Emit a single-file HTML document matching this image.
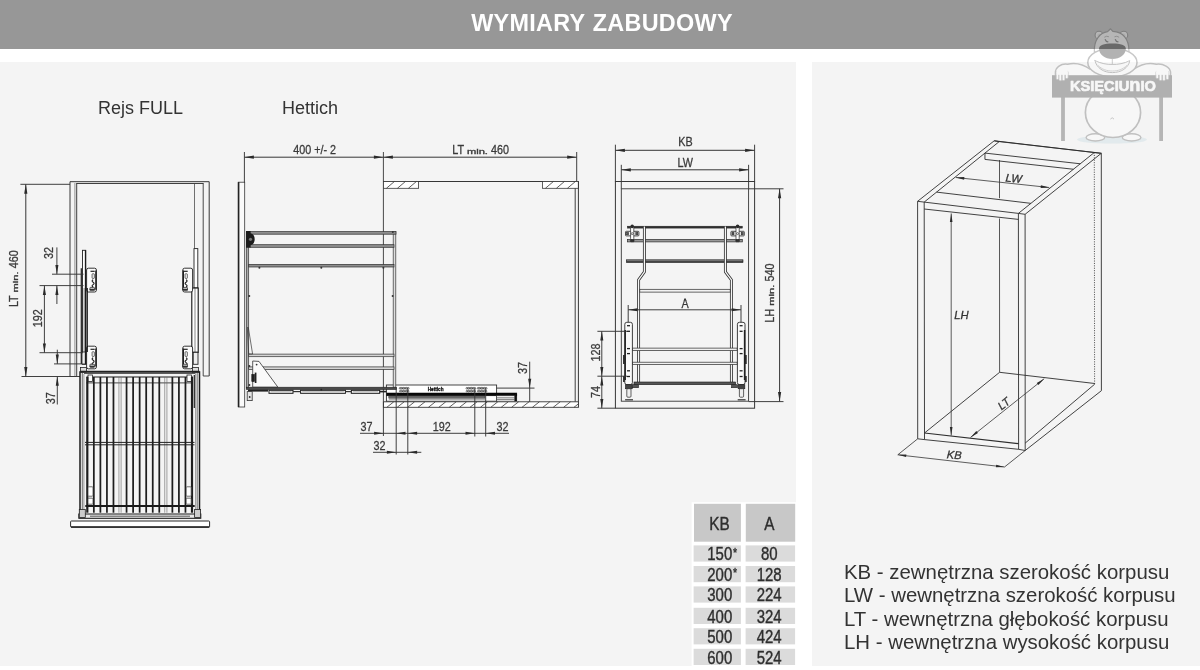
<!DOCTYPE html>
<html lang="pl">
<head>
<meta charset="utf-8">
<title>Wymiary zabudowy</title>
<style>
html,body{margin:0;padding:0;background:#fff;overflow:hidden;}
body{width:1200px;height:670px;position:relative;overflow:hidden;font-family:"Liberation Sans",sans-serif;}
#hdr{position:absolute;left:0;top:0;width:1200px;height:48.5px;background:#979797;overflow:hidden;}
#hdr h1{margin:0;position:absolute;left:4px;width:1196px;top:9.0px;word-spacing:0.9px;text-align:center;color:#fff;font-size:23.4px;line-height:28px;font-weight:bold;letter-spacing:0.3px;}
#pl{position:absolute;left:0;top:62px;width:796px;height:604px;background:#f4f4f4;}
#pr{position:absolute;left:812.2px;top:62px;width:387.8px;height:604px;background:#f4f4f4;}
.lab{position:absolute;font-size:18px;line-height:20px;color:#333;white-space:nowrap;}
#legend{position:absolute;left:844.3px;top:560.6px;font-size:20.4px;line-height:23.45px;color:#333;white-space:nowrap;}
svg{position:absolute;left:0;top:0;will-change:transform;}
.lab,#legend,#hdr h1{will-change:transform;}
svg text{font-family:"Liberation Sans",sans-serif;}
</style>
</head>
<body>
<div id="hdr"><h1>WYMIARY ZABUDOWY</h1></div>
<div id="pl"></div>
<div id="pr"></div>
<div class="lab" style="left:98.2px;top:98.1px;">Rejs FULL</div>
<div class="lab" style="left:282.3px;top:98.1px;">Hettich</div>
<div id="legend">KB - zewnętrzna szerokość korpusu<br>LW - wewnętrzna szerokość korpusu<br>LT - wewnętrzna głębokość korpusu<br>LH - wewnętrzna wysokość korpusu</div>
<svg width="1200" height="670" viewBox="0 0 1200 670">
<path d="M70 181.7L209.2 181.7" stroke="#363636" stroke-width="1" fill="none" />
<path d="M76.6 183.5L203.2 183.5" stroke="#363636" stroke-width="0.95" fill="none" />
<path d="M70 181.7L70 376.5" stroke="#363636" stroke-width="1" fill="none" />
<path d="M74.9 183L74.9 376.5" stroke="#666" stroke-width="0.7" fill="none" />
<path d="M76.7 183L76.7 376.5" stroke="#363636" stroke-width="0.95" fill="none" />
<path d="M209.2 181.7L209.2 376" stroke="#363636" stroke-width="1" fill="none" />
<path d="M203.2 183L203.2 376" stroke="#363636" stroke-width="0.9" fill="none" />
<path d="M194.5 183.5L194.5 249" stroke="#363636" stroke-width="0.7" fill="none" />
<path d="M70 376.5L76.7 376.5" stroke="#363636" stroke-width="0.9" fill="none" />
<path d="M203.2 376L209.2 376" stroke="#363636" stroke-width="0.9" fill="none" />
<rect x="82.5" y="250.3" width="3.2" height="114" rx="0" stroke="#222" stroke-width="0.9" fill="#fff"/>
<path d="M84.1 288L84.1 352" stroke="#363636" stroke-width="0.6" fill="none" />
<rect x="82" y="352" width="5" height="12" rx="0" stroke="#222" stroke-width="0.8" fill="#eee"/>
<rect x="194" y="248.6" width="3.8" height="39.4" rx="0" stroke="#222" stroke-width="0.9" fill="#fff"/>
<rect x="191.8" y="288" width="6.4" height="64.3" rx="0" stroke="#111" stroke-width="1.1" fill="#fff"/>
<path d="M195 288L195 352" stroke="#363636" stroke-width="0.6" fill="none" />
<rect x="193.2" y="352.3" width="4.8" height="12" rx="0" stroke="#222" stroke-width="0.9" fill="#eee"/>
<rect x="86.6" y="268.2" width="9.8" height="23.8" rx="1.8" stroke="#1e1e1e" stroke-width="0.9" fill="#fbfbfb"/>
<path d="M95.9 270.4L95.9 289.8" stroke="#1e1e1e" stroke-width="1.4" fill="none" />
<path d="M90.5 271.3L94.7 271.3" stroke="#222" stroke-width="1.2" fill="none" />
<rect x="92.1" y="273.8" width="2.2" height="4.6" rx="0.5" stroke="#222" stroke-width="0.7" fill="#fff"/>
<path d="M93.1 279.8q-2 1.2 0 2.4q2 1.2 0 2.4q-2 1.2 0 2.4" fill="none" stroke="#222" stroke-width="1.1"/>
<rect x="89.9" y="287.4" width="4.6" height="3.2" rx="0.6" stroke="#222" stroke-width="0.7" fill="#bbb"/>
<path d="M89.7 289.6L94.5 289.6" stroke="#222" stroke-width="1" fill="none" />
<rect x="86.6" y="346.2" width="9.8" height="22.6" rx="1.8" stroke="#1e1e1e" stroke-width="0.9" fill="#fbfbfb"/>
<path d="M95.9 348.4L95.9 366.6" stroke="#1e1e1e" stroke-width="1.4" fill="none" />
<path d="M90.5 349.3L94.7 349.3" stroke="#222" stroke-width="1.2" fill="none" />
<rect x="92.1" y="351.8" width="2.2" height="4.6" rx="0.5" stroke="#222" stroke-width="0.7" fill="#fff"/>
<path d="M93.1 357.8q-2 1.2 0 2.4q2 1.2 0 2.4q-2 1.2 0 2.4" fill="none" stroke="#222" stroke-width="1.1"/>
<rect x="89.9" y="364.2" width="4.6" height="3.2" rx="0.6" stroke="#222" stroke-width="0.7" fill="#bbb"/>
<path d="M89.7 366.4L94.5 366.4" stroke="#222" stroke-width="1" fill="none" />
<rect x="182.8" y="268.2" width="9.8" height="23.8" rx="1.8" stroke="#1e1e1e" stroke-width="0.9" fill="#fbfbfb"/>
<path d="M183.3 270.4L183.3 289.8" stroke="#1e1e1e" stroke-width="1.4" fill="none" />
<path d="M183.5 271.3L187.7 271.3" stroke="#222" stroke-width="1.2" fill="none" />
<rect x="185.1" y="273.8" width="2.2" height="4.6" rx="0.5" stroke="#222" stroke-width="0.7" fill="#fff"/>
<path d="M186.1 279.8q2 1.2 0 2.4q-2 1.2 0 2.4q2 1.2 0 2.4" fill="none" stroke="#222" stroke-width="1.1"/>
<rect x="182.9" y="287.4" width="4.6" height="3.2" rx="0.6" stroke="#222" stroke-width="0.7" fill="#bbb"/>
<path d="M182.7 289.6L187.5 289.6" stroke="#222" stroke-width="1" fill="none" />
<rect x="182.8" y="346.2" width="9.8" height="22.6" rx="1.8" stroke="#1e1e1e" stroke-width="0.9" fill="#fbfbfb"/>
<path d="M183.3 348.4L183.3 366.6" stroke="#1e1e1e" stroke-width="1.4" fill="none" />
<path d="M183.5 349.3L187.7 349.3" stroke="#222" stroke-width="1.2" fill="none" />
<rect x="185.1" y="351.8" width="2.2" height="4.6" rx="0.5" stroke="#222" stroke-width="0.7" fill="#fff"/>
<path d="M186.1 357.8q2 1.2 0 2.4q-2 1.2 0 2.4q2 1.2 0 2.4" fill="none" stroke="#222" stroke-width="1.1"/>
<rect x="182.9" y="364.2" width="4.6" height="3.2" rx="0.6" stroke="#222" stroke-width="0.7" fill="#bbb"/>
<path d="M182.7 366.4L187.5 366.4" stroke="#222" stroke-width="1" fill="none" />
<path d="M81.3 268.2L81.3 364" stroke="#1c1c1c" stroke-width="1.2" fill="none" />
<path d="M85.5 250.3L85.5 364" stroke="#1c1c1c" stroke-width="1.3" fill="none" />
<path d="M87.2 288L87.2 352" stroke="#111" stroke-width="1.3" fill="none" />
<path d="M20.4 184.3L70 184.3" stroke="#363636" stroke-width="0.95" fill="none" />
<path d="M21.5 376.5L80 376.5" stroke="#363636" stroke-width="0.95" fill="none" />
<path d="M25.8 184.3L25.8 376.5" stroke="#363636" stroke-width="1" fill="none" />
<path d="M25.8 376.5L24.2 367L27.4 367Z" fill="#2a2a2a"/>
<path d="M25.8 184.3L27.4 193.8L24.2 193.8Z" fill="#2a2a2a"/>
<g transform="translate(18.1 278.8) rotate(-90)" fill="#3a3a3a" stroke="#3a3a3a" stroke-width="0.3">
<text transform="translate(-28.3 0) scale(0.83 1)" font-size="13">LT</text>
<text transform="translate(-13.7 -0.2) scale(1.62 1)" font-size="6.9" stroke-width="0.3">min.</text>
<text transform="translate(10.5 0) scale(0.83 1)" font-size="13">460</text>
</g>
<text transform="translate(53.3 253.1) rotate(-90) scale(0.83 1)" font-size="13" text-anchor="middle" fill="#3a3a3a" font-weight="normal" font-style="normal"  stroke="#3a3a3a" stroke-width="0.3">32</text>
<text transform="translate(42 318.2) rotate(-90) scale(0.83 1)" font-size="13" text-anchor="middle" fill="#3a3a3a" font-weight="normal" font-style="normal"  stroke="#3a3a3a" stroke-width="0.3">192</text>
<text transform="translate(55.1 398.2) rotate(-90) scale(0.83 1)" font-size="13" text-anchor="middle" fill="#3a3a3a" font-weight="normal" font-style="normal"  stroke="#3a3a3a" stroke-width="0.3">37</text>
<path d="M52 274.2L83.5 274.2" stroke="#363636" stroke-width="0.95" fill="none" />
<path d="M39.5 285.6L83.5 285.6" stroke="#363636" stroke-width="0.95" fill="none" />
<path d="M39.5 352.7L83 352.7" stroke="#363636" stroke-width="0.95" fill="none" />
<path d="M54 363.9L82 363.9" stroke="#363636" stroke-width="0.95" fill="none" />
<path d="M56.9 247.4L56.9 274.2" stroke="#363636" stroke-width="0.95" fill="none" />
<path d="M56.9 274.2L55.35 264.9L58.45 264.9Z" fill="#2a2a2a"/>
<path d="M56.9 285.6L56.9 304" stroke="#363636" stroke-width="0.95" fill="none" />
<path d="M56.9 285.6L58.45 294.9L55.35 294.9Z" fill="#2a2a2a"/>
<path d="M44.4 285.6L44.4 352.7" stroke="#363636" stroke-width="0.95" fill="none" />
<path d="M44.4 352.7L42.85 343.4L45.95 343.4Z" fill="#2a2a2a"/>
<path d="M44.4 285.6L45.95 294.9L42.85 294.9Z" fill="#2a2a2a"/>
<path d="M57.3 349.7L57.3 363.9" stroke="#363636" stroke-width="0.95" fill="none" />
<path d="M57.3 363.9L55.75 354.6L58.85 354.6Z" fill="#2a2a2a"/>
<path d="M57.3 376.5L57.3 404.5" stroke="#363636" stroke-width="0.95" fill="none" />
<path d="M57.3 376.5L58.85 385.8L55.75 385.8Z" fill="#2a2a2a"/>
<rect x="80" y="372" width="119.5" height="145.5" rx="0" stroke="#1a1a1a" stroke-width="1.5" fill="none"/>
<path d="M82.3 372L82.3 517" stroke="#363636" stroke-width="0.7" fill="none" />
<path d="M83.9 374L83.9 514" stroke="#777" stroke-width="0.7" fill="none" />
<path d="M197.2 372L197.2 517" stroke="#363636" stroke-width="0.7" fill="none" />
<path d="M195.6 374L195.6 514" stroke="#777" stroke-width="0.7" fill="none" />
<rect x="80.5" y="367.5" width="6" height="5" rx="0" stroke="#222" stroke-width="0.8" fill="#ddd"/>
<rect x="192.5" y="367.5" width="6" height="5" rx="0" stroke="#222" stroke-width="0.8" fill="#ddd"/>
<path d="M80 371.4L199.5 371.4" stroke="#222" stroke-width="1.3" fill="none" />
<path d="M84 373.5L195.5 373.5" stroke="#333" stroke-width="0.8" fill="none" />
<path d="M86.4 377L193 377" stroke="#1a1a1a" stroke-width="1.1" fill="none" />
<path d="M86.4 382.9L193 382.9" stroke="#333" stroke-width="0.9" fill="none" />
<rect x="88" y="375" width="4.5" height="6.5" rx="0" stroke="#222" stroke-width="0.8" fill="#fff"/>
<rect x="187" y="375" width="4.5" height="6.5" rx="0" stroke="#222" stroke-width="0.8" fill="#fff"/>
<path d="M87.3 377L87.3 512.7" stroke="#1e1e1e" stroke-width="2.2" fill="none" />
<path d="M93.84 377L93.84 512.7" stroke="#1e1e1e" stroke-width="1.75" fill="none" />
<path d="M100.39 377L100.39 512.7" stroke="#1e1e1e" stroke-width="1.75" fill="none" />
<path d="M106.93 377L106.93 512.7" stroke="#1e1e1e" stroke-width="1.75" fill="none" />
<path d="M113.47 377L113.47 512.7" stroke="#1e1e1e" stroke-width="1.75" fill="none" />
<path d="M118.92 377L118.92 512.7" stroke="#666" stroke-width="0.6" fill="none" />
<path d="M121.12 377L121.12 512.7" stroke="#666" stroke-width="0.6" fill="none" />
<path d="M126.56 377L126.56 512.7" stroke="#1e1e1e" stroke-width="1.75" fill="none" />
<path d="M133.11 377L133.11 512.7" stroke="#1e1e1e" stroke-width="1.75" fill="none" />
<path d="M139.65 377L139.65 512.7" stroke="#1e1e1e" stroke-width="1.75" fill="none" />
<path d="M146.19 377L146.19 512.7" stroke="#1e1e1e" stroke-width="1.75" fill="none" />
<path d="M152.74 377L152.74 512.7" stroke="#1e1e1e" stroke-width="1.75" fill="none" />
<path d="M159.28 377L159.28 512.7" stroke="#1e1e1e" stroke-width="1.75" fill="none" />
<path d="M164.72 377L164.72 512.7" stroke="#666" stroke-width="0.6" fill="none" />
<path d="M166.92 377L166.92 512.7" stroke="#666" stroke-width="0.6" fill="none" />
<path d="M172.37 377L172.37 512.7" stroke="#1e1e1e" stroke-width="1.75" fill="none" />
<path d="M178.91 377L178.91 512.7" stroke="#1e1e1e" stroke-width="1.75" fill="none" />
<path d="M185.46 377L185.46 512.7" stroke="#1e1e1e" stroke-width="1.75" fill="none" />
<path d="M192 377L192 512.7" stroke="#1e1e1e" stroke-width="2.2" fill="none" />
<path d="M194.3 375L194.3 408" stroke="#222" stroke-width="1.2" fill="none" />
<path d="M85 442.4L194.5 442.4" stroke="#222" stroke-width="1" fill="none" />
<path d="M85 444.8L194.5 444.8" stroke="#222" stroke-width="1" fill="none" />
<path d="M85.3 506L194.7 506" stroke="#1a1a1a" stroke-width="1.9" fill="none" />
<rect x="78.8" y="514" width="122" height="4.3" rx="0" stroke="#1a1a1a" stroke-width="1" fill="#e8e8e8"/>
<path d="M90 516.2L190 516.2" stroke="#333" stroke-width="0.8" fill="none" />
<rect x="88" y="486.8" width="5" height="9.4" rx="0.8" stroke="#333" stroke-width="0.7" fill="#fff"/>
<rect x="88" y="498.2" width="5" height="6" rx="0.8" stroke="#333" stroke-width="0.7" fill="#fff"/>
<rect x="186.2" y="486.8" width="5" height="9.4" rx="0.8" stroke="#333" stroke-width="0.7" fill="#fff"/>
<rect x="186.2" y="498.2" width="5" height="6" rx="0.8" stroke="#333" stroke-width="0.7" fill="#fff"/>
<rect x="79.3" y="509.5" width="6" height="8" rx="0" stroke="#222" stroke-width="0.8" fill="#ccc"/>
<rect x="194.6" y="509.5" width="6" height="8" rx="0" stroke="#222" stroke-width="0.8" fill="#ccc"/>
<rect x="70.6" y="521" width="139" height="6.2" rx="0.8" stroke="#2a2a2a" stroke-width="1" fill="#fff"/>
<path d="M71 527L209.3 527" stroke="#222" stroke-width="1.4" fill="none" />
<path d="M244.4 152L244.4 183" stroke="#363636" stroke-width="0.95" fill="none" />
<path d="M383.4 152L383.4 402" stroke="#363636" stroke-width="0.9" fill="none" />
<path d="M576.7 152L576.7 181.5" stroke="#363636" stroke-width="0.95" fill="none" />
<path d="M244.4 157.2L383.4 157.2" stroke="#363636" stroke-width="1" fill="none" />
<path d="M383.4 157.2L373.9 158.8L373.9 155.6Z" fill="#2a2a2a"/>
<path d="M244.4 157.2L253.9 155.6L253.9 158.8Z" fill="#2a2a2a"/>
<path d="M383.4 157.2L576.7 157.2" stroke="#363636" stroke-width="1" fill="none" />
<path d="M576.7 157.2L567.2 158.8L567.2 155.6Z" fill="#2a2a2a"/>
<path d="M383.4 157.2L392.9 155.6L392.9 158.8Z" fill="#2a2a2a"/>
<text transform="translate(314.6 154.3) scale(0.83 1)" font-size="13" text-anchor="middle" fill="#3a3a3a" font-weight="normal" font-style="normal"  stroke="#3a3a3a" stroke-width="0.3">400 +/- 2</text>
<g transform="translate(480.6 154.3)" fill="#3a3a3a" stroke="#3a3a3a" stroke-width="0.3">
<text transform="translate(-28.3 0) scale(0.83 1)" font-size="13">LT</text>
<text transform="translate(-13.7 -0.2) scale(1.62 1)" font-size="6.9" stroke-width="0.3">min.</text>
<text transform="translate(10.5 0) scale(0.83 1)" font-size="13">460</text>
</g>
<path d="M383.4 181.5L578.4 181.5" stroke="#363636" stroke-width="1" fill="none" />
<rect x="383.4" y="181.5" width="35.2" height="6.8" rx="0" stroke="#363636" stroke-width="0.8" fill="#fff"/>
<path d="M386.4 188.3L394.4 181.5" stroke="#363636" stroke-width="0.8" fill="none" />
<path d="M397.4 188.3L405.4 181.5" stroke="#363636" stroke-width="0.8" fill="none" />
<path d="M408.4 188.3L416.4 181.5" stroke="#363636" stroke-width="0.8" fill="none" />
<rect x="542.4" y="181.5" width="36" height="6.8" rx="0" stroke="#363636" stroke-width="0.8" fill="#fff"/>
<path d="M545.4 188.3L553.4 181.5" stroke="#363636" stroke-width="0.8" fill="none" />
<path d="M556.4 188.3L564.4 181.5" stroke="#363636" stroke-width="0.8" fill="none" />
<path d="M567.4 188.3L575.4 181.5" stroke="#363636" stroke-width="0.8" fill="none" />
<path d="M578.4 181.5L578.4 407.3" stroke="#363636" stroke-width="1" fill="none" />
<path d="M575.2 188.3L575.2 401.8" stroke="#363636" stroke-width="0.95" fill="none" />
<rect x="383.4" y="401.8" width="195" height="5.5" rx="0" stroke="#363636" stroke-width="0.9" fill="#fff"/>
<path d="M386.8 407.3L393.8 401.8" stroke="#363636" stroke-width="0.8" fill="none" />
<path d="M397.2 407.3L404.2 401.8" stroke="#363636" stroke-width="0.8" fill="none" />
<path d="M407.6 407.3L414.6 401.8" stroke="#363636" stroke-width="0.8" fill="none" />
<path d="M418 407.3L425 401.8" stroke="#363636" stroke-width="0.8" fill="none" />
<path d="M428.4 407.3L435.4 401.8" stroke="#363636" stroke-width="0.8" fill="none" />
<path d="M438.8 407.3L445.8 401.8" stroke="#363636" stroke-width="0.8" fill="none" />
<path d="M449.2 407.3L456.2 401.8" stroke="#363636" stroke-width="0.8" fill="none" />
<path d="M459.6 407.3L466.6 401.8" stroke="#363636" stroke-width="0.8" fill="none" />
<path d="M470 407.3L477 401.8" stroke="#363636" stroke-width="0.8" fill="none" />
<path d="M480.4 407.3L487.4 401.8" stroke="#363636" stroke-width="0.8" fill="none" />
<path d="M490.8 407.3L497.8 401.8" stroke="#363636" stroke-width="0.8" fill="none" />
<path d="M501.2 407.3L508.2 401.8" stroke="#363636" stroke-width="0.8" fill="none" />
<path d="M511.6 407.3L518.6 401.8" stroke="#363636" stroke-width="0.8" fill="none" />
<path d="M522 407.3L529 401.8" stroke="#363636" stroke-width="0.8" fill="none" />
<path d="M532.4 407.3L539.4 401.8" stroke="#363636" stroke-width="0.8" fill="none" />
<path d="M542.8 407.3L549.8 401.8" stroke="#363636" stroke-width="0.8" fill="none" />
<path d="M553.2 407.3L560.2 401.8" stroke="#363636" stroke-width="0.8" fill="none" />
<path d="M563.6 407.3L570.6 401.8" stroke="#363636" stroke-width="0.8" fill="none" />
<path d="M574 407.3L578.4 403.84" stroke="#363636" stroke-width="0.8" fill="none" />
<rect x="386.4" y="385" width="110.2" height="16.2" rx="0" stroke="#333" stroke-width="0.9" fill="#fff"/>
<path d="M496.6 388.1L534.5 388.1" stroke="#363636" stroke-width="0.95" fill="none" />
<rect x="386.8" y="393" width="130" height="2.8" rx="0" stroke="#000" stroke-width="0.5" fill="#0a0a0a"/>
<rect x="514.6" y="394" width="2.2" height="7" rx="0" stroke="#000" stroke-width="0.5" fill="#111"/>
<rect x="388.8" y="396.2" width="96.2" height="2" rx="0" stroke="#333" stroke-width="0.5" fill="#6a6a6a"/>
<path d="M388.8 399.3L485 399.3" stroke="#777" stroke-width="0.7" fill="none" />
<rect x="496.6" y="395.8" width="18" height="5.3" rx="0" stroke="#333" stroke-width="0.6" fill="#fff"/>
<path d="M496.6 397.8L514.6 397.8" stroke="#444" stroke-width="0.7" fill="none" />
<path d="M496.6 399.4L514.6 399.4" stroke="#444" stroke-width="0.7" fill="none" />
<rect x="238.3" y="182.2" width="6.4" height="224.8" rx="0" stroke="#363636" stroke-width="0.8" fill="#fafafa"/>
<path d="M238.6 182.2L238.6 407" stroke="#222" stroke-width="1.6" fill="none" />
<rect x="246.3" y="232" width="2.4" height="156" rx="0" stroke="#333" stroke-width="0.7" fill="#aaa"/>
<rect x="393.2" y="232" width="2.6" height="156" rx="0" stroke="#333" stroke-width="0.7" fill="#ddd"/>
<rect x="250" y="231.6" width="146" height="2.6" rx="0" stroke="#2e2e2e" stroke-width="0.7" fill="#8e8e8e"/>
<rect x="250" y="244.7" width="144" height="2.6" rx="0" stroke="#2e2e2e" stroke-width="0.7" fill="#8e8e8e"/>
<rect x="248.7" y="264.4" width="145.3" height="2.6" rx="0" stroke="#2e2e2e" stroke-width="0.7" fill="#8e8e8e"/>
<rect x="248.7" y="354.1" width="145.3" height="2.6" rx="0" stroke="#2e2e2e" stroke-width="0.7" fill="#d4d4d4"/>
<rect x="248.7" y="366.9" width="145.3" height="2.6" rx="0" stroke="#2e2e2e" stroke-width="0.7" fill="#d4d4d4"/>
<circle cx="259.4" cy="267.7" r="1" fill="#333"/>
<circle cx="321.3" cy="267.7" r="1" fill="#333"/>
<circle cx="383.4" cy="267.7" r="1" fill="#333"/>
<circle cx="249.2" cy="296" r="1.1" fill="#333"/>
<circle cx="392.6" cy="296" r="1.0" fill="#333"/>
<circle cx="392.8" cy="232" r="1.0" fill="#333"/>
<path d="M246 231h4.5v2.2q4.2 1.2 4.2 6t-4.2 6v2.6h-4.5z" fill="#1c1c1c"/>
<circle cx="250.5" cy="239.3" r="1.6" fill="#777"/>
<path d="M247.3 327.5L248.3 327.5L252.6 354L248.7 354Z" stroke="#333" stroke-width="0.7" fill="none" stroke-linejoin="round" />
<path d="M252.7 361L259 361.4L277.9 387.2L252.7 387.2Z" stroke="#333" stroke-width="0.8" fill="#fafafa" stroke-linejoin="round" />
<circle cx="256.6" cy="364.6" r="0.9" fill="#333"/>
<rect x="251.8" y="374.5" width="2.6" height="7" rx="0" stroke="#111" stroke-width="0.6" fill="#222"/>
<path d="M255.6 372.6L255.6 383" stroke="#222" stroke-width="1.7" fill="none" />
<circle cx="249.3" cy="366" r="1.1" fill="#333"/><circle cx="249.3" cy="385" r="1.1" fill="#333"/>
<rect x="246.4" y="387.2" width="150.2" height="2.3" rx="0" stroke="#222" stroke-width="0.6" fill="#4a4a4a"/>
<path d="M248 390.6L268 390.6" stroke="#222" stroke-width="2" fill="none" />
<rect x="269" y="390.3" width="24" height="3" rx="0" stroke="#151515" stroke-width="1" fill="#fff"/>
<path d="M270.5 391.7L291.5 391.7" stroke="#888" stroke-width="0.6" fill="none" />
<rect x="300.6" y="390.3" width="44.8" height="3" rx="0" stroke="#151515" stroke-width="1" fill="#fff"/>
<path d="M302.1 391.7L343.9 391.7" stroke="#888" stroke-width="0.6" fill="none" />
<rect x="351.3" y="390.3" width="28.4" height="3" rx="0" stroke="#151515" stroke-width="1" fill="#fff"/>
<path d="M352.8 391.7L378.2 391.7" stroke="#888" stroke-width="0.6" fill="none" />
<path d="M293 391.6L300.6 391.6" stroke="#333" stroke-width="1.2" fill="none" />
<path d="M345.4 391.6L351.3 391.6" stroke="#333" stroke-width="1.2" fill="none" />
<path d="M379.7 391.6L386.5 391.6" stroke="#222" stroke-width="1.6" fill="none" />
<circle cx="321.3" cy="389.7" r="0.9" fill="#222"/>
<rect x="247.2" y="391.6" width="5" height="9" rx="0" stroke="#333" stroke-width="0.8" fill="#e4e4e4"/>
<circle cx="249.7" cy="397" r="0.9" fill="#333"/>
<circle cx="400.2" cy="388.3" r="0.9" fill="none" stroke="#222" stroke-width="0.6"/>
<circle cx="400.2" cy="391.2" r="0.8" fill="none" stroke="#222" stroke-width="0.6"/>
<circle cx="401.8" cy="388.3" r="0.9" fill="none" stroke="#222" stroke-width="0.6"/>
<circle cx="401.8" cy="391.2" r="0.8" fill="none" stroke="#222" stroke-width="0.6"/>
<circle cx="403.4" cy="388.3" r="0.9" fill="none" stroke="#222" stroke-width="0.6"/>
<circle cx="403.4" cy="391.2" r="0.8" fill="none" stroke="#222" stroke-width="0.6"/>
<circle cx="405" cy="388.3" r="0.9" fill="none" stroke="#222" stroke-width="0.6"/>
<circle cx="405" cy="391.2" r="0.8" fill="none" stroke="#222" stroke-width="0.6"/>
<circle cx="406.6" cy="388.3" r="0.9" fill="none" stroke="#222" stroke-width="0.6"/>
<circle cx="406.6" cy="391.2" r="0.8" fill="none" stroke="#222" stroke-width="0.6"/>
<circle cx="408.2" cy="388.3" r="0.9" fill="none" stroke="#222" stroke-width="0.6"/>
<circle cx="408.2" cy="391.2" r="0.8" fill="none" stroke="#222" stroke-width="0.6"/>
<circle cx="466.9" cy="388.3" r="0.9" fill="none" stroke="#222" stroke-width="0.6"/>
<circle cx="466.9" cy="391.2" r="0.8" fill="none" stroke="#222" stroke-width="0.6"/>
<circle cx="468.5" cy="388.3" r="0.9" fill="none" stroke="#222" stroke-width="0.6"/>
<circle cx="468.5" cy="391.2" r="0.8" fill="none" stroke="#222" stroke-width="0.6"/>
<circle cx="470.1" cy="388.3" r="0.9" fill="none" stroke="#222" stroke-width="0.6"/>
<circle cx="470.1" cy="391.2" r="0.8" fill="none" stroke="#222" stroke-width="0.6"/>
<circle cx="471.6" cy="388.3" r="0.9" fill="none" stroke="#222" stroke-width="0.6"/>
<circle cx="471.6" cy="391.2" r="0.8" fill="none" stroke="#222" stroke-width="0.6"/>
<circle cx="473.2" cy="388.3" r="0.9" fill="none" stroke="#222" stroke-width="0.6"/>
<circle cx="473.2" cy="391.2" r="0.8" fill="none" stroke="#222" stroke-width="0.6"/>
<circle cx="474.8" cy="388.3" r="0.9" fill="none" stroke="#222" stroke-width="0.6"/>
<circle cx="474.8" cy="391.2" r="0.8" fill="none" stroke="#222" stroke-width="0.6"/>
<circle cx="478.2" cy="388.3" r="0.9" fill="none" stroke="#222" stroke-width="0.6"/>
<circle cx="478.2" cy="391.2" r="0.8" fill="none" stroke="#222" stroke-width="0.6"/>
<circle cx="479.8" cy="388.3" r="0.9" fill="none" stroke="#222" stroke-width="0.6"/>
<circle cx="479.8" cy="391.2" r="0.8" fill="none" stroke="#222" stroke-width="0.6"/>
<circle cx="481.4" cy="388.3" r="0.9" fill="none" stroke="#222" stroke-width="0.6"/>
<circle cx="481.4" cy="391.2" r="0.8" fill="none" stroke="#222" stroke-width="0.6"/>
<circle cx="482.9" cy="388.3" r="0.9" fill="none" stroke="#222" stroke-width="0.6"/>
<circle cx="482.9" cy="391.2" r="0.8" fill="none" stroke="#222" stroke-width="0.6"/>
<circle cx="484.5" cy="388.3" r="0.9" fill="none" stroke="#222" stroke-width="0.6"/>
<circle cx="484.5" cy="391.2" r="0.8" fill="none" stroke="#222" stroke-width="0.6"/>
<circle cx="486.1" cy="388.3" r="0.9" fill="none" stroke="#222" stroke-width="0.6"/>
<circle cx="486.1" cy="391.2" r="0.8" fill="none" stroke="#222" stroke-width="0.6"/>
<text transform="translate(435.6 391.4) scale(0.95 1)" font-size="4.9" text-anchor="middle" fill="#111" font-weight="bold" font-style="normal"  stroke="#111" stroke-width="0.3">Hettich</text>
<path d="M396.2 388.5L396.2 454.5" stroke="#363636" stroke-width="0.95" fill="none" />
<path d="M407.8 388.5L407.8 454.5" stroke="#363636" stroke-width="0.95" fill="none" />
<path d="M474.8 388.5L474.8 436.5" stroke="#363636" stroke-width="0.95" fill="none" />
<path d="M485.7 388.5L485.7 436.5" stroke="#363636" stroke-width="0.95" fill="none" />
<path d="M383.4 402L383.4 436" stroke="#363636" stroke-width="0.95" fill="none" />
<path d="M360 433.3L509 433.3" stroke="#363636" stroke-width="0.95" fill="none" />
<path d="M383.4 433.3L374.1 434.85L374.1 431.75Z" fill="#2a2a2a"/>
<path d="M396.2 433.3L405.5 431.75L405.5 434.85Z" fill="#2a2a2a"/>
<path d="M407.8 433.3L417.1 431.75L417.1 434.85Z" fill="#2a2a2a"/>
<path d="M474.8 433.3L465.5 434.85L465.5 431.75Z" fill="#2a2a2a"/>
<path d="M485.7 433.3L495 431.75L495 434.85Z" fill="#2a2a2a"/>
<path d="M373 452.3L421.3 452.3" stroke="#363636" stroke-width="0.95" fill="none" />
<path d="M396.2 452.3L386.9 453.85L386.9 450.75Z" fill="#2a2a2a"/>
<path d="M407.8 452.3L417.1 450.75L417.1 453.85Z" fill="#2a2a2a"/>
<text transform="translate(366.5 430.6) scale(0.83 1)" font-size="13" text-anchor="middle" fill="#3a3a3a" font-weight="normal" font-style="normal"  stroke="#3a3a3a" stroke-width="0.3">37</text>
<text transform="translate(441.8 430.6) scale(0.83 1)" font-size="13" text-anchor="middle" fill="#3a3a3a" font-weight="normal" font-style="normal"  stroke="#3a3a3a" stroke-width="0.3">192</text>
<text transform="translate(502.5 430.6) scale(0.83 1)" font-size="13" text-anchor="middle" fill="#3a3a3a" font-weight="normal" font-style="normal"  stroke="#3a3a3a" stroke-width="0.3">32</text>
<text transform="translate(379.6 449.6) scale(0.83 1)" font-size="13" text-anchor="middle" fill="#3a3a3a" font-weight="normal" font-style="normal"  stroke="#3a3a3a" stroke-width="0.3">32</text>
<path d="M529.7 361.7L529.7 401.8" stroke="#363636" stroke-width="0.95" fill="none" />
<path d="M529.7 388.1L528.15 378.8L531.25 378.8Z" fill="#2a2a2a"/>
<text transform="translate(527.2 368) rotate(-90) scale(0.83 1)" font-size="13" text-anchor="middle" fill="#3a3a3a" font-weight="normal" font-style="normal"  stroke="#3a3a3a" stroke-width="0.3">37</text>
<rect x="615.4" y="181.5" width="139.2" height="226.7" rx="0" stroke="#363636" stroke-width="1" fill="none"/>
<rect x="621.3" y="188.8" width="127.3" height="212.4" rx="0" stroke="#363636" stroke-width="0.9" fill="none"/>
<path d="M615.4 144.7L615.4 181.5" stroke="#363636" stroke-width="0.95" fill="none" />
<path d="M754.6 144.7L754.6 181.5" stroke="#363636" stroke-width="0.95" fill="none" />
<path d="M615.4 150.3L754.6 150.3" stroke="#363636" stroke-width="1" fill="none" />
<path d="M754.6 150.3L745.1 151.9L745.1 148.7Z" fill="#2a2a2a"/>
<path d="M615.4 150.3L624.9 148.7L624.9 151.9Z" fill="#2a2a2a"/>
<path d="M621.3 164.8L621.3 188.8" stroke="#363636" stroke-width="0.95" fill="none" />
<path d="M748.6 164.8L748.6 188.8" stroke="#363636" stroke-width="0.95" fill="none" />
<path d="M621.3 169.8L748.6 169.8" stroke="#363636" stroke-width="1" fill="none" />
<path d="M748.6 169.8L739.1 171.4L739.1 168.2Z" fill="#2a2a2a"/>
<path d="M621.3 169.8L630.8 168.2L630.8 171.4Z" fill="#2a2a2a"/>
<text transform="translate(685.4 146.3) scale(0.83 1)" font-size="13" text-anchor="middle" fill="#3a3a3a" font-weight="normal" font-style="normal"  stroke="#3a3a3a" stroke-width="0.3">KB</text>
<text transform="translate(685.2 167.4) scale(0.83 1)" font-size="13" text-anchor="middle" fill="#3a3a3a" font-weight="normal" font-style="normal"  stroke="#3a3a3a" stroke-width="0.3">LW</text>
<path d="M748.6 188.8L783.5 188.8" stroke="#363636" stroke-width="0.95" fill="none" />
<path d="M748.6 401.6L783.5 401.6" stroke="#363636" stroke-width="0.95" fill="none" />
<path d="M779.6 188.8L779.6 401.6" stroke="#363636" stroke-width="1" fill="none" />
<path d="M779.6 401.6L778 392.1L781.2 392.1Z" fill="#2a2a2a"/>
<path d="M779.6 188.8L781.2 198.3L778 198.3Z" fill="#2a2a2a"/>
<g transform="translate(774.4 292.1) rotate(-90)" fill="#3a3a3a" stroke="#3a3a3a" stroke-width="0.3">
<text transform="translate(-30.6 0) scale(0.83 1)" font-size="13">LH</text>
<text transform="translate(-13.7 -0.2) scale(1.62 1)" font-size="6.9" stroke-width="0.3">min.</text>
<text transform="translate(10.5 0) scale(0.83 1)" font-size="13">540</text>
</g>
<rect x="627.5" y="226.2" width="114.8" height="1.9" rx="0" stroke="#1c1c1c" stroke-width="0.5" fill="#333"/>
<rect x="627.5" y="239.4" width="114.8" height="2.5" rx="0" stroke="#2a2a2a" stroke-width="0.7" fill="#999"/>
<rect x="626.4" y="259.8" width="116.6" height="2.7" rx="0" stroke="#1c1c1c" stroke-width="0.6" fill="#444"/>
<path d="M627 260.3L742.4 260.3" stroke="#aaa" stroke-width="0.6" fill="none" />
<rect x="625.5" y="231.3" width="13.4" height="4.6" rx="0.8" stroke="#222" stroke-width="0.8" fill="#f2f2f2"/>
<rect x="630.6" y="226.2" width="3.2" height="13.6" rx="1.2" stroke="#222" stroke-width="0.7" fill="#fff"/>
<circle cx="632.2" cy="226.4" r="1.8" fill="#2a2a2a"/>
<circle cx="632.2" cy="233.6" r="1.0" fill="none" stroke="#222" stroke-width="0.6"/>
<rect x="626.6" y="232.4" width="2" height="2.4" rx="0" stroke="#222" stroke-width="0.5" fill="#555"/>
<rect x="635.8" y="232.4" width="2" height="2.4" rx="0" stroke="#222" stroke-width="0.5" fill="#555"/>
<rect x="630.3" y="239.6" width="3.8" height="2.2" rx="0.8" stroke="#222" stroke-width="0.5" fill="#333"/>
<rect x="730.9" y="231.3" width="13.4" height="4.6" rx="0.8" stroke="#222" stroke-width="0.8" fill="#f2f2f2"/>
<rect x="736" y="226.2" width="3.2" height="13.6" rx="1.2" stroke="#222" stroke-width="0.7" fill="#fff"/>
<circle cx="737.6" cy="226.4" r="1.8" fill="#2a2a2a"/>
<circle cx="737.6" cy="233.6" r="1.0" fill="none" stroke="#222" stroke-width="0.6"/>
<rect x="732" y="232.4" width="2" height="2.4" rx="0" stroke="#222" stroke-width="0.5" fill="#555"/>
<rect x="741.2" y="232.4" width="2" height="2.4" rx="0" stroke="#222" stroke-width="0.5" fill="#555"/>
<rect x="735.7" y="239.6" width="3.8" height="2.2" rx="0.8" stroke="#222" stroke-width="0.5" fill="#333"/>
<path d="M644.4 226.5L644.4 271.8L638.6 279.8L638.6 384" stroke="#2d2d2d" stroke-width="2.9" fill="none" stroke-linejoin="round" />
<path d="M644.4 226.5L644.4 271.8L638.6 279.8L638.6 384" stroke="#f6f6f6" stroke-width="1.3" fill="none" stroke-linejoin="round" />
<path d="M725.4 226.5L725.4 271.8L731.4 279.8L731.4 384" stroke="#2d2d2d" stroke-width="2.9" fill="none" stroke-linejoin="round" />
<path d="M725.4 226.5L725.4 271.8L731.4 279.8L731.4 384" stroke="#f6f6f6" stroke-width="1.3" fill="none" stroke-linejoin="round" />
<rect x="639.8" y="289.3" width="90.4" height="2.8" rx="0" stroke="#2a2a2a" stroke-width="0.7" fill="#f2f2f2"/>
<path d="M683.5 300.5l1.5-2.4 1.5 2.4z" fill="#333"/>
<path d="M628.2 305L628.2 322.3" stroke="#363636" stroke-width="0.95" fill="none" />
<path d="M741 305L741 322.3" stroke="#363636" stroke-width="0.95" fill="none" />
<path d="M628.2 309.8L741 309.8" stroke="#363636" stroke-width="0.95" fill="none" />
<path d="M741 309.8L731.7 311.35L731.7 308.25Z" fill="#2a2a2a"/>
<path d="M628.2 309.8L637.5 308.25L637.5 311.35Z" fill="#2a2a2a"/>
<text transform="translate(685 307.6) scale(0.83 1)" font-size="13" text-anchor="middle" fill="#3a3a3a" font-weight="normal" font-style="normal"  stroke="#3a3a3a" stroke-width="0.3">A</text>
<rect x="632.4" y="348.1" width="104.8" height="2.5" rx="0" stroke="#2a2a2a" stroke-width="0.7" fill="#f0f0f0"/>
<rect x="632.4" y="362.2" width="104.8" height="2.3" rx="0" stroke="#2a2a2a" stroke-width="0.7" fill="#f0f0f0"/>
<rect x="634" y="382" width="101.6" height="2.7" rx="0" stroke="#1a1a1a" stroke-width="0.6" fill="#555"/>
<rect x="624.8" y="322.3" width="7.6" height="62.3" rx="2" stroke="#2a2a2a" stroke-width="0.9" fill="#fafafa"/>
<path d="M625.2 330L625.2 380" stroke="#222" stroke-width="1.5" fill="none" />
<path d="M627 325.7L630 325.7" stroke="#222" stroke-width="1.3" fill="none" />
<path d="M627 331.3L630 331.3" stroke="#222" stroke-width="1.3" fill="none" />
<path d="M627 348.6L630 348.6" stroke="#222" stroke-width="1.3" fill="none" />
<path d="M627 353.6L630 353.6" stroke="#222" stroke-width="1.3" fill="none" />
<path d="M627 370.8L630 370.8" stroke="#222" stroke-width="1.3" fill="none" />
<path d="M627 376.5L630 376.5" stroke="#222" stroke-width="1.3" fill="none" />
<path d="M623.9 355L623.9 364" stroke="#222" stroke-width="1.6" fill="none" />
<path d="M623.9 376L623.9 382" stroke="#222" stroke-width="1.6" fill="none" />
<rect x="737.4" y="322.3" width="7.6" height="62.3" rx="2" stroke="#2a2a2a" stroke-width="0.9" fill="#fafafa"/>
<path d="M744.6 330L744.6 380" stroke="#222" stroke-width="1.5" fill="none" />
<path d="M739.6 325.7L742.6 325.7" stroke="#222" stroke-width="1.3" fill="none" />
<path d="M739.6 331.3L742.6 331.3" stroke="#222" stroke-width="1.3" fill="none" />
<path d="M739.6 348.6L742.6 348.6" stroke="#222" stroke-width="1.3" fill="none" />
<path d="M739.6 353.6L742.6 353.6" stroke="#222" stroke-width="1.3" fill="none" />
<path d="M739.6 370.8L742.6 370.8" stroke="#222" stroke-width="1.3" fill="none" />
<path d="M739.6 376.5L742.6 376.5" stroke="#222" stroke-width="1.3" fill="none" />
<path d="M745.9 355L745.9 364" stroke="#222" stroke-width="1.6" fill="none" />
<path d="M745.9 376L745.9 382" stroke="#222" stroke-width="1.6" fill="none" />
<rect x="625.6" y="384.7" width="6.6" height="4" rx="0" stroke="#222" stroke-width="0.7" fill="#444"/>
<rect x="626.8" y="388.7" width="4.2" height="8.5" rx="1" stroke="#222" stroke-width="0.7" fill="#eee"/>
<path d="M625.1 399.8L633 399.8" stroke="#333" stroke-width="1.2" fill="none" />
<rect x="738.2" y="384.7" width="6.6" height="4" rx="0" stroke="#222" stroke-width="0.7" fill="#444"/>
<rect x="739.4" y="388.7" width="4.2" height="8.5" rx="1" stroke="#222" stroke-width="0.7" fill="#eee"/>
<path d="M737.7 399.8L745.6 399.8" stroke="#333" stroke-width="1.2" fill="none" />
<rect x="632.5" y="384.7" width="6" height="3" rx="0" stroke="#222" stroke-width="0.6" fill="#555"/>
<rect x="731.5" y="384.7" width="6" height="3" rx="0" stroke="#222" stroke-width="0.6" fill="#555"/>
<path d="M597.4 331.3L627 331.3" stroke="#363636" stroke-width="0.95" fill="none" />
<path d="M597.4 376.2L627 376.2" stroke="#363636" stroke-width="0.95" fill="none" />
<path d="M597.4 408.2L615.4 408.2" stroke="#363636" stroke-width="0.95" fill="none" />
<path d="M601.8 331.3L601.8 376.2" stroke="#363636" stroke-width="0.95" fill="none" />
<path d="M601.8 376.2L600.25 366.9L603.35 366.9Z" fill="#2a2a2a"/>
<path d="M601.8 331.3L603.35 340.6L600.25 340.6Z" fill="#2a2a2a"/>
<path d="M601.8 376.2L601.8 408.2" stroke="#363636" stroke-width="0.95" fill="none" />
<path d="M601.8 408.2L600.25 398.9L603.35 398.9Z" fill="#2a2a2a"/>
<path d="M601.8 376.2L603.35 385.5L600.25 385.5Z" fill="#2a2a2a"/>
<text transform="translate(600.2 352.5) rotate(-90) scale(0.83 1)" font-size="13" text-anchor="middle" fill="#3a3a3a" font-weight="normal" font-style="normal"  stroke="#3a3a3a" stroke-width="0.3">128</text>
<text transform="translate(600.2 392) rotate(-90) scale(0.83 1)" font-size="13" text-anchor="middle" fill="#3a3a3a" font-weight="normal" font-style="normal"  stroke="#3a3a3a" stroke-width="0.3">74</text>
<path d="M917.6 201.3L924.2 202.1L999.2 141.6L994.2 140.8Z" stroke="#2e2e2e" stroke-width="0.9" fill="none" stroke-linejoin="round" />
<path d="M1018.4 213.4L1025.1 214.3L1101.3 153.3L1094.3 152.5Z" stroke="#2e2e2e" stroke-width="0.9" fill="none" stroke-linejoin="round" />
<path d="M994.2 140.8L1101.3 153.3" stroke="#2e2e2e" stroke-width="1" fill="none" />
<path d="M999.2 141.6L1094.3 152.5" stroke="#2e2e2e" stroke-width="0.8" fill="none" />
<path d="M917.6 201.3L917.7 438.8" stroke="#2e2e2e" stroke-width="0.9" fill="none" />
<path d="M924.2 202.1L924.5 433" stroke="#2e2e2e" stroke-width="0.9" fill="none" />
<path d="M1018.4 213.4L1018.6 449.3" stroke="#2e2e2e" stroke-width="0.9" fill="none" />
<path d="M1025.1 214.3L1025.2 450.5" stroke="#2e2e2e" stroke-width="0.9" fill="none" />
<path d="M1101.3 153.3L1101.4 390.7" stroke="#2e2e2e" stroke-width="0.9" fill="none" />
<path d="M1094.3 152.5L1094.6 384" stroke="#2e2e2e" stroke-width="0.8" fill="none" stroke-dasharray="1.1 1.3"/>
<path d="M924.2 202.1L1018.4 213.4" stroke="#2e2e2e" stroke-width="0.9" fill="none" />
<path d="M924.2 209L1018.4 219.4" stroke="#2e2e2e" stroke-width="0.9" fill="none" />
<path d="M936.58 192.12L1030.92 203.35" stroke="#2e2e2e" stroke-width="0.9" fill="none" />
<path d="M984.95 153.09L1080.26 163.77" stroke="#2e2e2e" stroke-width="0.9" fill="none" />
<path d="M984.95 153.09L984.95 159.4" stroke="#2e2e2e" stroke-width="0.9" fill="none" />
<path d="M984.95 159.4L1073.43 169.25" stroke="#2e2e2e" stroke-width="0.9" fill="none" />
<path d="M999.5 160L999.5 198.2" stroke="#2e2e2e" stroke-width="0.8" fill="none" />
<path d="M999.5 218.5L999.6 372.3" stroke="#2e2e2e" stroke-width="0.8" fill="none" />
<path d="M924.5 433L999.6 372.3" stroke="#2e2e2e" stroke-width="0.9" fill="none" />
<path d="M999.6 372.3L1094.7 383.5" stroke="#2e2e2e" stroke-width="0.9" fill="none" />
<path d="M924.5 433L1018.6 443.7" stroke="#2e2e2e" stroke-width="1.2" fill="none" />
<path d="M917.7 438.8L924.5 439.6" stroke="#2e2e2e" stroke-width="0.9" fill="none" />
<path d="M924.5 439.6L1018.6 449.3" stroke="#2e2e2e" stroke-width="0.9" fill="none" />
<path d="M1018.6 449.3L1025.2 450.5" stroke="#2e2e2e" stroke-width="0.9" fill="none" />
<path d="M924.5 433L924.5 439.6" stroke="#2e2e2e" stroke-width="0.9" fill="none" />
<path d="M1025.2 450.5L1101.4 390.7" stroke="#2e2e2e" stroke-width="0.9" fill="none" />
<path d="M1025.2 443.1L1094.7 384.2" stroke="#2e2e2e" stroke-width="0.9" fill="none" />
<path d="M955.8 177.5L1049.2 187.5" stroke="#363636" stroke-width="0.8" fill="none" />
<path d="M1049.2 187.5L1040.61 187.89L1040.89 185.3Z" fill="#2a2a2a"/>
<path d="M955.8 177.5L964.39 177.11L964.11 179.7Z" fill="#2a2a2a"/>
<text transform="translate(1013.3 182.2) rotate(5)" font-size="11.2" text-anchor="middle" fill="#333" font-weight="normal" font-style="italic"  stroke="#333" stroke-width="0.3">LW</text>
<path d="M951.2 213.4L951.2 435.6" stroke="#363636" stroke-width="0.8" fill="none" />
<path d="M951.2 435.6L949.9 427.1L952.5 427.1Z" fill="#2a2a2a"/>
<path d="M951.2 213.4L952.5 221.9L949.9 221.9Z" fill="#2a2a2a"/>
<text transform="translate(961.4 318.8)" font-size="11.2" text-anchor="middle" fill="#333" font-weight="normal" font-style="italic"  stroke="#333" stroke-width="0.3">LH</text>
<path d="M970.5 437.4L1044.2 378.7" stroke="#363636" stroke-width="0.8" fill="none" />
<path d="M1044.2 378.7L1038.36 385.01L1036.74 382.98Z" fill="#2a2a2a"/>
<path d="M970.5 437.4L976.34 431.09L977.96 433.12Z" fill="#2a2a2a"/>
<text transform="translate(1006.4 406.8) rotate(-38.5)" font-size="11.2" text-anchor="middle" fill="#333" font-weight="normal" font-style="italic"  stroke="#333" stroke-width="0.3">LT</text>
<path d="M917.7 438.8L897.8 454.8" stroke="#2e2e2e" stroke-width="0.8" fill="none" />
<path d="M1025.2 450.5L1004.5 467" stroke="#2e2e2e" stroke-width="0.8" fill="none" />
<path d="M897.8 454.8L1004.5 467" stroke="#363636" stroke-width="0.8" fill="none" />
<path d="M1004.5 467L995.91 467.33L996.2 464.74Z" fill="#2a2a2a"/>
<path d="M897.8 454.8L906.39 454.47L906.1 457.06Z" fill="#2a2a2a"/>
<text transform="translate(954 458.8) rotate(4)" font-size="11.2" text-anchor="middle" fill="#333" font-weight="normal" font-style="italic"  stroke="#333" stroke-width="0.3">KB</text>
<rect x="691.6" y="502.2" width="104.4" height="165" fill="#fff"/>
<rect x="694" y="503.8" width="46.9" height="37.9" fill="#c8c8c8"/>
<rect x="745.8" y="503.8" width="49.4" height="37.9" fill="#c8c8c8"/>
<rect x="693.6" y="545.4" width="47.3" height="16.2" fill="#dbdbdb"/>
<rect x="745.6" y="545.4" width="49.5" height="16.2" fill="#dbdbdb"/>
<text transform="translate(707.3 560.3) scale(0.85 1)" font-size="17.6" text-anchor="start" fill="#2e2e2e" font-weight="normal" font-style="normal" stroke="#2e2e2e" stroke-width="0.38">150</text>
<text transform="translate(733 556.6) scale(0.85 1)" font-size="12.5" text-anchor="start" fill="#2e2e2e" font-weight="normal" font-style="normal" stroke="#2e2e2e" stroke-width="0.38">*</text>
<text transform="translate(769.2 560.3) scale(0.85 1)" font-size="17.6" text-anchor="middle" fill="#2e2e2e" font-weight="normal" font-style="normal" stroke="#2e2e2e" stroke-width="0.38">80</text>
<rect x="693.6" y="566" width="47.3" height="16.2" fill="#dbdbdb"/>
<rect x="745.6" y="566" width="49.5" height="16.2" fill="#dbdbdb"/>
<text transform="translate(707.3 580.9) scale(0.85 1)" font-size="17.6" text-anchor="start" fill="#2e2e2e" font-weight="normal" font-style="normal" stroke="#2e2e2e" stroke-width="0.38">200</text>
<text transform="translate(733 577.2) scale(0.85 1)" font-size="12.5" text-anchor="start" fill="#2e2e2e" font-weight="normal" font-style="normal" stroke="#2e2e2e" stroke-width="0.38">*</text>
<text transform="translate(769.2 580.9) scale(0.85 1)" font-size="17.6" text-anchor="middle" fill="#2e2e2e" font-weight="normal" font-style="normal" stroke="#2e2e2e" stroke-width="0.38">128</text>
<rect x="693.6" y="586.4" width="47.3" height="16.2" fill="#dbdbdb"/>
<rect x="745.6" y="586.4" width="49.5" height="16.2" fill="#dbdbdb"/>
<text transform="translate(707.3 601.3) scale(0.85 1)" font-size="17.6" text-anchor="start" fill="#2e2e2e" font-weight="normal" font-style="normal" stroke="#2e2e2e" stroke-width="0.38">300</text>
<text transform="translate(769.2 601.3) scale(0.85 1)" font-size="17.6" text-anchor="middle" fill="#2e2e2e" font-weight="normal" font-style="normal" stroke="#2e2e2e" stroke-width="0.38">224</text>
<rect x="693.6" y="607.8" width="47.3" height="16.2" fill="#dbdbdb"/>
<rect x="745.6" y="607.8" width="49.5" height="16.2" fill="#dbdbdb"/>
<text transform="translate(707.3 622.7) scale(0.85 1)" font-size="17.6" text-anchor="start" fill="#2e2e2e" font-weight="normal" font-style="normal" stroke="#2e2e2e" stroke-width="0.38">400</text>
<text transform="translate(769.2 622.7) scale(0.85 1)" font-size="17.6" text-anchor="middle" fill="#2e2e2e" font-weight="normal" font-style="normal" stroke="#2e2e2e" stroke-width="0.38">324</text>
<rect x="693.6" y="628.2" width="47.3" height="16.2" fill="#dbdbdb"/>
<rect x="745.6" y="628.2" width="49.5" height="16.2" fill="#dbdbdb"/>
<text transform="translate(707.3 643.1) scale(0.85 1)" font-size="17.6" text-anchor="start" fill="#2e2e2e" font-weight="normal" font-style="normal" stroke="#2e2e2e" stroke-width="0.38">500</text>
<text transform="translate(769.2 643.1) scale(0.85 1)" font-size="17.6" text-anchor="middle" fill="#2e2e2e" font-weight="normal" font-style="normal" stroke="#2e2e2e" stroke-width="0.38">424</text>
<rect x="693.6" y="648.8" width="47.3" height="16.2" fill="#dbdbdb"/>
<rect x="745.6" y="648.8" width="49.5" height="16.2" fill="#dbdbdb"/>
<text transform="translate(707.3 663.7) scale(0.85 1)" font-size="17.6" text-anchor="start" fill="#2e2e2e" font-weight="normal" font-style="normal" stroke="#2e2e2e" stroke-width="0.38">600</text>
<text transform="translate(769.2 663.7) scale(0.85 1)" font-size="17.6" text-anchor="middle" fill="#2e2e2e" font-weight="normal" font-style="normal" stroke="#2e2e2e" stroke-width="0.38">524</text>
<text transform="translate(719.5 529.5) scale(0.86 1)" font-size="17.8" text-anchor="middle" fill="#2e2e2e" font-weight="normal" font-style="normal" stroke="#2e2e2e" stroke-width="0.38">KB</text>
<text transform="translate(769.4 529.5) scale(0.86 1)" font-size="17.8" text-anchor="middle" fill="#2e2e2e" font-weight="normal" font-style="normal" stroke="#2e2e2e" stroke-width="0.38">A</text>
<g opacity="0.3" stroke-linejoin="round" stroke-linecap="round">
<ellipse cx="1112" cy="139.6" rx="35" ry="4" fill="#b9d3dc" />
<rect x="1061.1" y="97" width="3.8" height="44" fill="#262626"/>
<rect x="1159.2" y="97" width="3.8" height="44" fill="#262626"/>
<ellipse cx="1095.4" cy="137.4" rx="9.3" ry="3.6" fill="#fff" stroke="#4a4a4a" stroke-width="1.4"/>
<ellipse cx="1131.6" cy="137.4" rx="9.3" ry="3.6" fill="#fff" stroke="#4a4a4a" stroke-width="1.4"/>
<ellipse cx="1113" cy="112.5" rx="27.6" ry="25" fill="#fff" stroke="#4a4a4a" stroke-width="1.7"/>
<path d="M1110.6 118.8q1.6 -2.4 3.2 0" fill="none" stroke="#4a4a4a" stroke-width="0.9"/>
<path d="M1093 71C1083 64 1075 62.3 1067.5 64.2C1061 63.4 1055.4 67 1055.4 73C1055.4 76 1056 78 1057 79L1093 79Z" fill="#fff"/>
<path d="M1131 71C1141 64 1149 62.3 1156.5 64.2C1163 63.4 1170.6 67 1170.6 73C1170.6 76 1170 78 1169 79L1131 79Z" fill="#fff"/>
<path d="M1090.5 69.3C1083 64 1075 62.3 1067.5 64.2C1061 63.4 1055.4 67 1055.4 73C1055.4 76 1056 78 1057 79" fill="none" stroke="#4a4a4a" stroke-width="1.5"/>
<path d="M1133.5 69.3C1141 64 1149 62.3 1156.5 64.2C1163 63.4 1170.6 67 1170.6 73C1170.6 76 1170 78 1169 79" fill="none" stroke="#4a4a4a" stroke-width="1.5"/>
<circle cx="1099" cy="35.2" r="3.9" fill="#fff" stroke="#4a4a4a" stroke-width="1.1"/>
<circle cx="1123.8" cy="35.2" r="3.9" fill="#fff" stroke="#4a4a4a" stroke-width="1.1"/>
<circle cx="1099.3" cy="35.6" r="2" fill="#ddd"/><circle cx="1123.5" cy="35.6" r="2" fill="#ddd"/>
<path d="M1094.4 52C1093.8 40 1100 32.6 1107.6 31.6L1110.6 28.8L1112.8 31.3C1122.6 31.6 1129.4 39 1128.9 52Z" fill="#fff" stroke="#4a4a4a" stroke-width="1.2"/>
<ellipse cx="1112.4" cy="62.5" rx="24.6" ry="14.2" fill="#fff" stroke="#4a4a4a" stroke-width="1.5"/>
<path d="M1105.3 39.6q0.6 2.2 2.6 2.2M1115.4 39.6q0.6 2.2 2.6 2.2" fill="none" stroke="#222" stroke-width="1.3"/>
<path d="M1104.6 37q2 -1.5 4 -0.4M1114.8 36.6q2 -1.1 4 0.4" fill="none" stroke="#4a4a4a" stroke-width="0.7"/>
<path d="M1099 48.5C1099 45 1104 43.4 1112.4 43.4C1120.8 43.4 1125.8 45 1125.8 48.5C1125.8 54.5 1120 59 1112.4 59C1104.8 59 1099 54.5 1099 48.5Z" fill="#000"/>
<path d="M1095 60.6C1101 63.6 1107 64.6 1112.3 64.4C1118 64.6 1124 63.6 1129.8 60.6C1128.5 68 1121 72.6 1112.4 72.6C1103.8 72.6 1096.3 68 1095 60.6Z" fill="#fff" stroke="#4a4a4a" stroke-width="1"/>
<path d="M1112.3 59v5.4" stroke="#4a4a4a" stroke-width="0.9" fill="none"/>
<path d="M1098 65.5C1102 69.5 1107 71 1112.4 71C1117.8 71 1122.8 69.5 1126.8 65.5" stroke="#4a4a4a" stroke-width="0.7" fill="none"/>
<rect x="1052" y="75.2" width="120" height="22.4" fill="#161616"/>
<rect x="1056.2" y="71" width="2.7" height="8.6" rx="1.35" fill="#fff" stroke="#4a4a4a" stroke-width="0.7"/>
<rect x="1059" y="71" width="2.7" height="9.8" rx="1.35" fill="#fff" stroke="#4a4a4a" stroke-width="0.7"/>
<rect x="1062.2" y="71" width="2.7" height="9.6" rx="1.35" fill="#fff" stroke="#4a4a4a" stroke-width="0.7"/>
<rect x="1065.4" y="71" width="2.7" height="7.6" rx="1.35" fill="#fff" stroke="#4a4a4a" stroke-width="0.7"/>
<rect x="1155.9" y="71" width="2.7" height="7.6" rx="1.35" fill="#fff" stroke="#4a4a4a" stroke-width="0.7"/>
<rect x="1159.2" y="71" width="2.7" height="9.6" rx="1.35" fill="#fff" stroke="#4a4a4a" stroke-width="0.7"/>
<rect x="1162.6" y="71" width="2.7" height="9.8" rx="1.35" fill="#fff" stroke="#4a4a4a" stroke-width="0.7"/>
<rect x="1166" y="71" width="2.7" height="8.6" rx="1.35" fill="#fff" stroke="#4a4a4a" stroke-width="0.7"/>
<rect x="1056.6" y="69.6" width="11.2" height="5.2" fill="#fff"/>
<rect x="1156.2" y="69.6" width="12.2" height="5.2" fill="#fff"/>
<text transform="translate(1112.9 90.9) scale(0.95 1)" text-anchor="middle" font-size="15.4" font-weight="bold" fill="#fff" stroke="#fff" stroke-width="0.7" stroke-linejoin="round">KSIĘCIU<tspan font-size="19.2">n</tspan>IO</text>
</g>
</svg>
</body>
</html>
